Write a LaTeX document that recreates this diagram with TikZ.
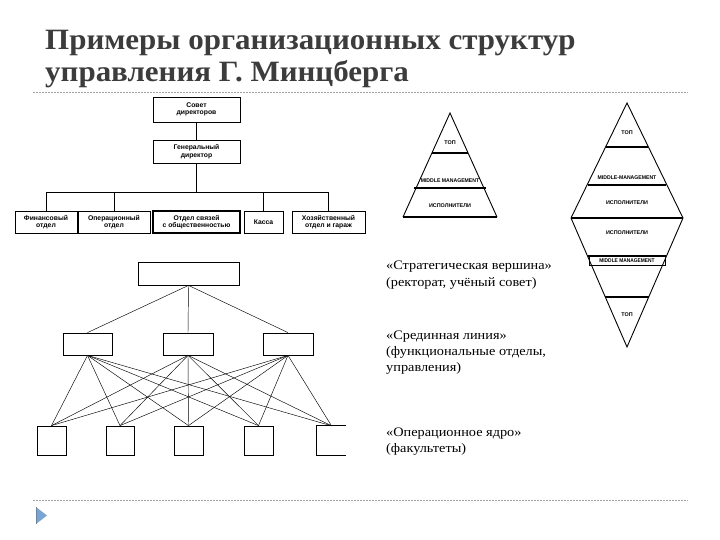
\documentclass[tikz,border=0pt]{standalone}
\usepackage{fontspec}
\setmainfont{Liberation Serif}
\setsansfont{Liberation Sans}
\usetikzlibrary{calc}
\definecolor{titlegray}{RGB}{60,60,60}
\definecolor{dashgray}{RGB}{160,160,160}
\definecolor{arrowblue}{RGB}{120,165,215}
\tikzset{
  orgbox/.style={draw, line width=0.9pt, inner sep=0pt, align=center,
    font=\sffamily\bfseries\fontsize{6.8}{7.4}\selectfont},
  netbox/.style={draw, line width=0.8pt, inner sep=0pt},
  conn/.style={line width=0.6pt},
  netline/.style={line width=0.45pt},
  sep/.style={dashgray, line width=0.8pt, dash pattern=on 2pt off 1pt},
  tiny/.style={font=\sffamily\bfseries\fontsize{5.4}{6}\selectfont, inner sep=0pt},
  note/.style={anchor=base west, inner sep=0pt, font=\fontsize{13}{14}\selectfont},
  ttl/.style={anchor=base west, inner sep=0pt, text=titlegray, font=\bfseries\fontsize{29.5}{33}\selectfont},
}
\newcommand{\wide}[2]{\scalebox{#1}[1]{#2}}
\begin{document}
\begin{tikzpicture}[x=1pt,y=-1pt]
\useasboundingbox (0,0) rectangle (720,540);
% title
\node[ttl] (t1) at (45,50) {\wide{1.05}{Примеры организационных структур}};
\node[ttl] (t2) at (45,82) {\wide{1.05}{управления Г. Минцберга}};
\coordinate (s1a) at (33,92); \coordinate (s1b) at (688,92);
\draw[sep] (s1a) -- (s1b);
\coordinate (s2a) at (33,500); \coordinate (s2b) at (688,500);
\draw[sep] (s2a) -- (s2b);
\fill[arrowblue] (36,507) -- (36,524) -- (47,515.5) -- cycle;
\draw[gray, line width=0.6pt] (36,507) -- (36,524);

% org chart
\node[orgbox, minimum width=87pt, minimum height=25pt] (sd) at (196.5,109.5) {Совет\\директоров};
\node[orgbox, minimum width=87pt, minimum height=23pt] (gd) at (196.5,151.5) {Генеральный\\директор};
\node[orgbox, minimum width=62pt, minimum height=22pt] (b1) at (46,222) {Финансовый\\отдел};
\node[orgbox, minimum width=72pt, minimum height=22pt] (b2) at (114,222) {Операционный\\отдел};
\node[orgbox, minimum width=87pt, minimum height=22pt, line width=1.3pt] (b3) at (196.5,222) {Отдел связей\\с общественностью};
\node[orgbox, minimum width=39pt, minimum height=22pt] (b4) at (263.5,222) {Касса};
\node[orgbox, minimum width=73pt, minimum height=22pt] (b5) at (328.5,222) {Хозяйственный\\отдел и гараж};
\coordinate (h) at (0,192);
\draw[conn] (sd) -- (gd);
\draw[conn] (gd.south) -- (gd.south |- h);
\draw[conn] (b1.north |- h) -- (b5.north |- h);
\foreach \b in {b1,b2,b4,b5} \draw[conn] (\b.north |- h) -- (\b.north);

% triangle
\coordinate (ta) at (450,113);
\coordinate (tl) at (403,217);
\coordinate (tr) at (497,217);
\draw[line width=0.9pt, line join=miter] (tl) -- (ta) -- (tr);
\draw[line width=1.8pt] (tl) -- (tr);
\draw[line width=1.1pt] (432,153) -- (468,153);
\draw[line width=1.8pt] (414,188) -- (486,188);
\node[tiny] (tt1) at (450,143) {ТОП};
\node[tiny] (tt2) at (450,181) {\wide{0.95}{MIDDLE MANAGEMENT}};
\node[tiny] (tt3) at (450,206) {ИСПОЛНИТЕЛИ};

% diamond
\coordinate (dt) at (627,103);
\coordinate (dl) at (571,218);
\coordinate (dr) at (683,218);
\coordinate (db) at (627,347);
\draw[line width=0.9pt] (dl) -- (dt) -- (dr) -- (db) -- cycle;
\draw[line width=2pt] (dl) -- (dr);
\draw[line width=1.1pt] (606,147) -- (648,147);
\draw[line width=1.8pt] (588,185) -- (666,185);
\draw[line width=1.8pt] (588,256) -- (666,256);
\draw[line width=0.6pt] (589,256) -- (589,265) -- (665,265) -- (665,256);
\draw[line width=1.1pt] (605,297) -- (649,297);
\node[tiny] (dt1) at (627,133) {ТОП};
\node[tiny] (dt2) at (627,178) {\wide{0.95}{MIDDLE-MANAGEMENT}};
\node[tiny] (dt3) at (627,203) {ИСПОЛНИТЕЛИ};
\node[tiny] (dt4) at (627,233) {ИСПОЛНИТЕЛИ};
\node[tiny] (dt5) at (627,260.5) {\wide{0.9}{MIDDLE MANAGEMENT}};
\node[tiny] (dt6) at (627,315) {ТОП};

% notes
\node[note] (n1) at (386,269) {\wide{1.1}{«Стратегическая вершина»}};
\node[note] (n2) at (386,286) {\wide{1.1}{(ректорат, учёный совет)}};
\node[note] (n3) at (386,339) {\wide{1.1}{«Срединная линия»}};
\node[note] (n4) at (386,355) {\wide{1.1}{(функциональные отделы,}};
\node[note] (n5) at (386,371) {\wide{1.1}{управления)}};
\node[note] (n6) at (386,436) {\wide{1.1}{«Операционное ядро»}};
\node[note] (n7) at (386,452) {\wide{1.1}{(факультеты)}};

% network
\node[netbox, minimum width=101pt, minimum height=23pt] (top) at (188.5,273.5) {};
\node[netbox, minimum width=49pt, minimum height=22pt] (m1) at (87.5,344) {};
\node[netbox, minimum width=50pt, minimum height=22pt] (m2) at (188,344) {};
\node[netbox, minimum width=50pt, minimum height=22pt] (m3) at (288,344) {};
\node[netbox, minimum width=29pt, minimum height=29pt] (l1) at (51.5,440.5) {};
\node[netbox, minimum width=28pt, minimum height=29pt] (l2) at (120,440.5) {};
\node[netbox, minimum width=29pt, minimum height=29pt] (l3) at (188.5,440.5) {};
\node[netbox, minimum width=29pt, minimum height=29pt] (l4) at (258.5,440.5) {};
\node[inner sep=0pt, minimum width=29pt, minimum height=29pt] (l5) at (331.5,440.5) {};
\draw[line width=0.8pt] (l5.north east) -- (l5.north west) -- (l5.south west) -- (l5.south east);
\foreach \m in {m1,m2,m3} \draw[netline] (top.south) -- (\m.north);
\foreach \m in {m1,m2,m3}
  \foreach \l in {l1,l2,l3,l4,l5}
    \draw[netline] (\m.south) -- (\l.north);
\end{tikzpicture}
\end{document}
